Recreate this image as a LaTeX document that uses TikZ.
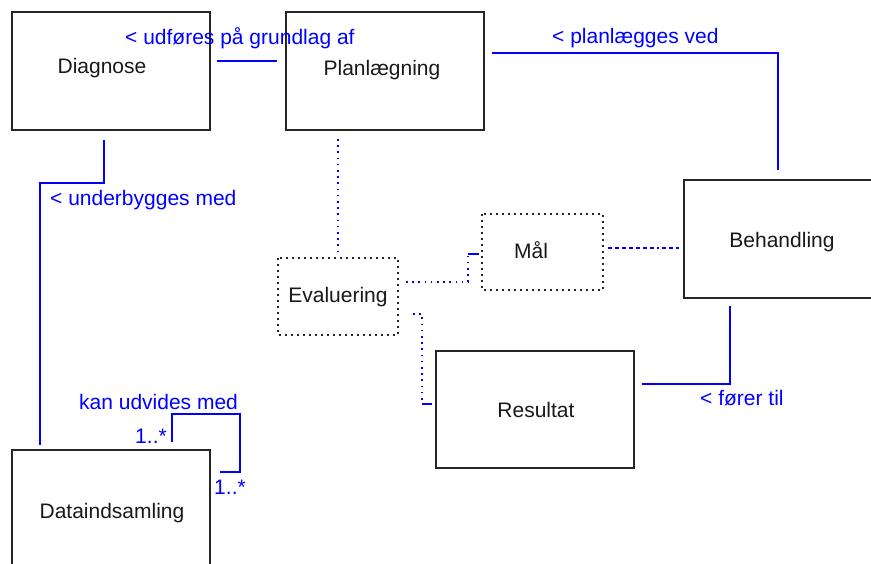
\documentclass[tikz,border=0pt]{standalone}
\usepackage{fontspec}
\setmainfont{Liberation Sans}
\begin{document}
\begin{tikzpicture}[x=1pt,y=-1pt,
  box/.style={draw=black!85,line width=1.3pt},
  dotbox/.style={draw=black!85,line width=1.6pt,dash pattern=on 1.6pt off 4.4pt},
  classname/.style={font=\fontsize{21}{24}\selectfont,text=black!90,inner sep=0pt},
  rel/.style={draw=blue,line width=1.2pt},
  reldot/.style={draw=blue,line width=1.6pt,dash pattern=on 1.6pt off 4.6pt},
  reldash/.style={draw=blue,line width=1.3pt,dash pattern=on 4pt off 3pt on 4pt off 3pt on 4pt off 3pt on 4pt off 3pt on 4pt off 3pt on 4pt off 3pt on 4pt off 3pt on 1.5pt off 3pt},
  rlabel/.style={font=\fontsize{21}{24}\selectfont,text=blue,inner sep=0pt}]
\useasboundingbox (0,0) rectangle (871,564);
\fill[white] (0,0) rectangle (871,564);

% classes
\draw[box] (12,12) rectangle (210,130);
\node[classname] (diagnose-t) at (102,68) {Diagnose};

\draw[box] (286,12) rectangle (484,130);
\node[classname] (plan-t) at (382,70) {Planlægning};

\draw[box] (684,180) rectangle (900,298);
\node[classname] (behand-t) at (782,242) {Behandling};

\draw[dotbox] (482,214) rectangle (603,290);
\node[classname] (maal-t) at (531,250) {Mål};

\draw[dotbox] (278,258) rectangle (398,335);
\node[classname] (eval-t) at (338,297) {Evaluering};

\draw[box] (436,351) rectangle (634,468);
\node[classname] (result-t) at (536,410) {Resultat};

\draw[box] (12,450) rectangle (210,600);
\node[classname] (data-t) at (112,513) {Dataindsamling};

% connector end points
\coordinate (dp-a) at (217,61);
\coordinate (dp-b) at (277,61);
\coordinate (pb-a) at (492,53);
\coordinate (pb-b) at (778,170);
\coordinate (dd-a) at (104,140);
\coordinate (dd-b) at (40,445);
\coordinate (self-a) at (172,442);
\coordinate (self-b) at (220,472);
\coordinate (pe-a) at (338,139);
\coordinate (pe-b) at (338,253);
\coordinate (em-a) at (406,282);
\coordinate (em-b) at (479,254);
\coordinate (mb-a) at (608,248);
\coordinate (mb-b) at (679,248);
\coordinate (er-a) at (413,314);
\coordinate (er-b) at (432,404);
\coordinate (br-a) at (730,306);
\coordinate (br-b) at (642,384);

% associations
\draw[rel] (dp-a) -- (dp-b);
\node[rlabel,anchor=west] (dp-l) at (125,38) {< udføres på grundlag af};

\draw[rel] (pb-a) -| (pb-b);
\node[rlabel,anchor=west] (pb-l) at (552,38) {< planlægges ved};

\draw[rel] (dd-a) -- (104,183) -- (40,183) -- (dd-b);
\node[rlabel,anchor=west] (dd-l) at (50,200) {< underbygges med};

\draw[rel] (self-a) -- (172,414) -- (240,414) -- (240,472) -- (self-b);
\node[rlabel,anchor=west] (self-l) at (79,402) {kan udvides med};
\node[rlabel] (self-m1) at (151,436) {1..*};
\node[rlabel] (self-m2) at (230,487) {1..*};

\draw[rel] (br-a) |- (br-b);
\node[rlabel,anchor=west] (br-l) at (700,398) {< fører til};

% dependencies of Evaluering and Mål
\draw[reldot] (pe-a) -- (pe-b);
\draw[reldot] (em-a) -- (468,282) -- (468,254);
\draw[rel] (468,254) -- (em-b);
\draw[reldot] (er-a) -- (422,314) -- (422,400);
\draw[rel] (422,404) -- (er-b);
\draw[reldash] (mb-a) -- (mb-b);
\end{tikzpicture}
\end{document}
